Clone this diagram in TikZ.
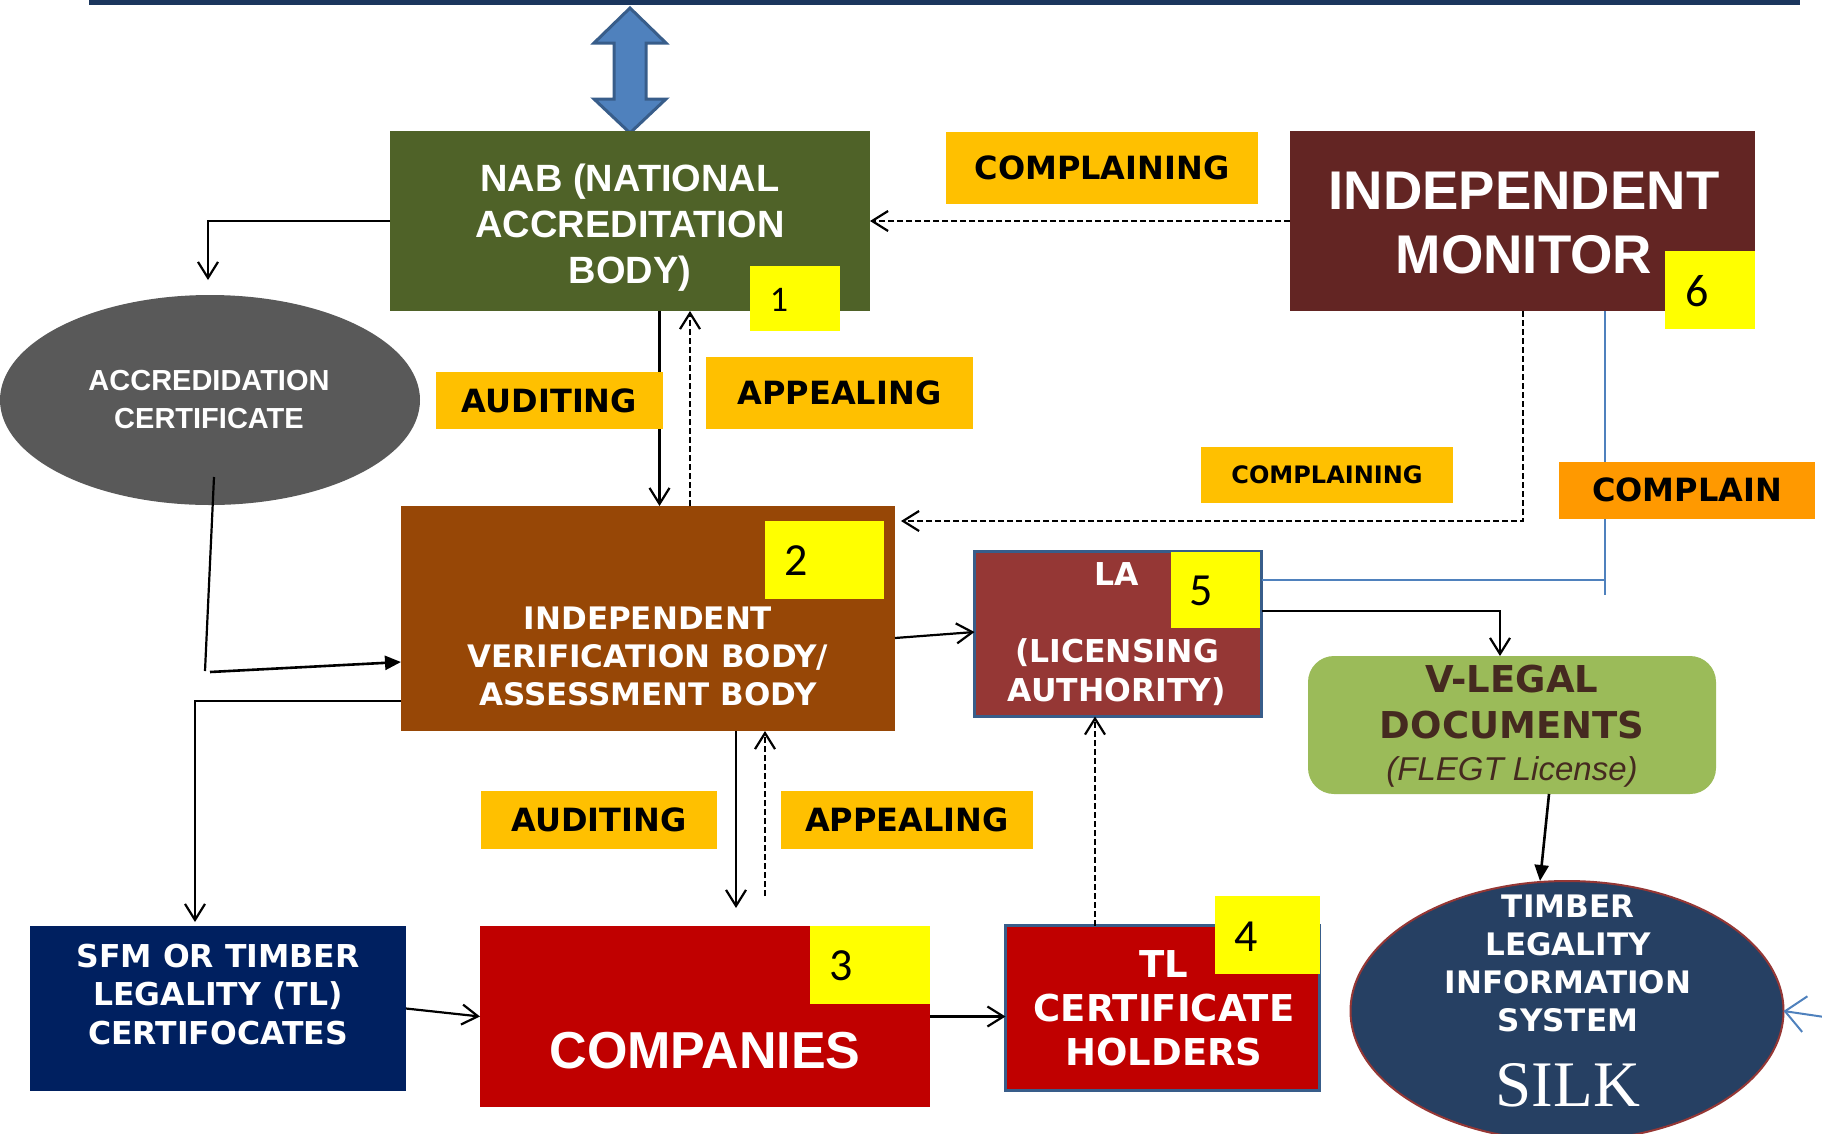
\documentclass[tikz,border=0pt]{standalone}
\usepackage{fontspec}
\setmainfont{Liberation Sans}
\newfontfamily\dvs{DejaVu Sans}
\newfontfamily\crl{Carlito}
\newfontfamily\srf{Liberation Serif}
\usetikzlibrary{arrows.meta,shapes.geometric,calc}
\definecolor{topc}{HTML}{1B365D}
\definecolor{nabc}{HTML}{4F6228}
\definecolor{imc}{HTML}{632523}
\definecolor{accc}{HTML}{595959}
\definecolor{ivbc}{HTML}{974706}
\definecolor{lac}{HTML}{953735}
\definecolor{bordc}{HTML}{385D8A}
\definecolor{vlc}{HTML}{9BBB59}
\definecolor{vltc}{HTML}{452A20}
\definecolor{silkc}{HTML}{264063}
\definecolor{sfmc}{HTML}{002060}
\definecolor{compc}{HTML}{C00000}
\definecolor{labc}{HTML}{FFC000}
\definecolor{orc}{HTML}{FF9900}
\definecolor{numc}{HTML}{FFFF00}
\definecolor{arrc}{HTML}{4F81BD}
\newcommand\myfs[2]{\fontsize{#1}{#2}\selectfont}
\begin{document}
\begin{tikzpicture}[x=1pt,y=-1pt,
  box/.style={rectangle,inner sep=0pt,outer sep=0pt,draw=none},
  numbox/.style={box,fill=numc},
  lab/.style={box,fill=labc,font={\dvs\bfseries\myfs{32}{38}},text=black},
  txt/.style={inner sep=0pt,outer sep=0pt,align=center},
  numtxt/.style={inner sep=0pt,outer sep=0pt,font={\crl\myfs{46}{50}},text=black},
  ar/.style={line width=2.2pt,-{Straight Barb[length=16pt,width=20pt]}},
  dar/.style={line width=2.2pt,dash pattern=on 6pt off 3pt,-{Straight Barb[length=16pt,width=20pt]}},
  tri/.style={line width=2.6pt,-{Triangle[length=16pt,width=14pt]}},
  plain/.style={line width=2.2pt},
  bl/.style={line width=2pt,draw=arrc}]
\useasboundingbox (0,0) rectangle (1822,1133);
\clip (0,0) rectangle (1822,1133);
% top rule
\fill[topc] (89,0) rectangle (1800,5);
% double arrow
\draw[fill=arrc,draw=bordc,line width=3pt,line join=miter]
  (630,8) -- (666,43) -- (646,43) -- (646,99) -- (666,99) -- (630,133)
  -- (594,99) -- (614,99) -- (614,43) -- (594,43) -- cycle;
% boxes
\node[box,fill=nabc,minimum width=480pt,minimum height=180pt] (nab) at (630,221) {};
\node[numbox,minimum width=90pt,minimum height=65pt] (n1) at (795,298.5) {};
\node[box,fill=imc,minimum width=465pt,minimum height=180pt] (im) at (1522.5,221) {};
\node[numbox,minimum width=90pt,minimum height=78pt] (n6) at (1710,290) {};
\node[ellipse,inner sep=0pt,outer sep=0pt,fill=accc,minimum width=420pt,minimum height=210pt] (acc) at (210,400) {};
\node[box,fill=ivbc,minimum width=494pt,minimum height=225pt] (ivb) at (648,618.5) {};
\node[numbox,minimum width=119pt,minimum height=78pt] (n2) at (824.5,560) {};
\node[box,fill=lac,draw=bordc,line width=3.5pt,minimum width=287pt,minimum height=165pt] (la) at (1118,634) {};
\node[numbox,minimum width=89pt,minimum height=76pt] (n5) at (1215,590) {};
\node[box,fill=vlc,rounded corners=26pt,minimum width=408pt,minimum height=138pt] (vl) at (1512,725) {};
\node[ellipse,inner sep=0pt,outer sep=0pt,fill=silkc,draw=lac,line width=2pt,minimum width=433pt,minimum height=260pt] (silk) at (1567,1011) {};
\node[box,fill=sfmc,minimum width=376pt,minimum height=165pt] (sfm) at (218,1008.5) {};
\node[box,fill=compc,minimum width=450pt,minimum height=181pt] (comp) at (705,1016.5) {};
\node[numbox,minimum width=120pt,minimum height=78pt] (n3) at (870,965) {};
\node[box,fill=compc,draw=bordc,line width=3.5pt,minimum width=314pt,minimum height=165pt] (tl) at (1162.5,1008) {};
\node[numbox,minimum width=105pt,minimum height=78pt] (n4) at (1267.5,935) {};
% texts
\node[txt,text=white,font={\bfseries\myfs{38}{46}}] (nabt) at (630,228) {NAB (NATIONAL\\ACCREDITATION\\BODY)};
\node[txt,text=white,font={\bfseries\myfs{29}{38}}] (acct) at (209,400) {ACCREDIDATION\\CERTIFICATE};
\node[txt,text=white,font={\bfseries\myfs{54.5}{64}}] (imt) at (1524,223) {INDEPENDENT\\MONITOR};
\node[txt,text=white,font={\dvs\bfseries\myfs{31}{38}}] (ivbt) at (648,656) {INDEPENDENT\\VERIFICATION BODY/\\ASSESSMENT BODY};
\node[txt,text=white,font={\dvs\bfseries\myfs{31.5}{38.5}}] (lat) at (1117,634) {LA\\[38.5pt](LICENSING\\AUTHORITY)};
\node[txt,text=white,font={\dvs\bfseries\myfs{31.5}{38.5}}] (sfmt) at (218,994.5) {SFM OR TIMBER\\LEGALITY (TL)\\CERTIFOCATES};
\node[txt,text=white,font={\bfseries\myfs{52}{60}}] (compt) at (705,1051) {COMPANIES};
\node[txt,text=white,font={\dvs\bfseries\myfs{37}{44}}] (tlt) at (1164,1008) {TL\\CERTIFICATE\\HOLDERS};
\node[txt,text=vltc,font={\dvs\bfseries\myfs{37}{46}}] (vlt) at (1512,702.5) {V-LEGAL\\DOCUMENTS};
\node[txt,text=vltc,font={\itshape\myfs{33}{40}}] (vlt2) at (1512,772) {(FLEGT License)};
\node[txt,text=white,font={\dvs\bfseries\myfs{31}{38}}] (silkt) at (1568,963) {TIMBER\\LEGALITY\\INFORMATION\\SYSTEM};
\node[txt,text=white,font={\srf\myfs{65}{70}}] (silkn) at (1568,1085) {SILK};
% digits
\node[numtxt,font={\crl\myfs{36}{40}}] (d1) at (779,300) {1};
\node[numtxt] (d2) at (796,561) {2};
\node[numtxt] (d3) at (841,966) {3};
\node[numtxt] (d4) at (1246,937) {4};
\node[numtxt] (d5) at (1201,591) {5};
\node[numtxt] (d6) at (1697,291) {6};
% connectors
\draw[ar] (nab.west) -- (208,221) -- (208,280);
\draw[plain] (214,477) -- (205,671);
\draw[tri] (210,672) -- (ivb.west |- 0,662);
\draw[ar] (ivb.west |- 0,701) -- (195,701) -- (195,922);
\draw[ar] (sfm.east) -- (comp.west);
\draw[ar] (comp.east) -- (tl.west |- comp.east);
\draw[dar] (tl.north -| 1095,0) -- (la.south -| 1095,0);
\draw[ar] (ivb.east |- 0,638) -- (la.west |- 0,632);
\draw[ar] (la.east |- 0,611) -- (1500,611) -- (vl.north -| 1500,0);
\draw[bl] (la.east |- 0,580) -- (1605,580);
\draw[bl] (im.south -| 1605,0) -- (1605,595);
\draw[tri] (vl.south -| 1549,0) -- (silk.north -| 1540,0);
\draw[line width=2pt,draw=arrc,-{Straight Barb[length=20pt,width=36pt]}] (1845,1020) -- (silk.east);
\draw[ar] (nab.south -| 659.5,0) -- (ivb.north -| 659.5,0);
\draw[dar] (ivb.north -| 690,0) -- (nab.south -| 690,0);
\draw[ar] (ivb.south -| 736,0) -- (736,908);
\draw[dar] (765,896) -- (ivb.south -| 765,0);
\draw[dar] (im.west) -- (nab.east);
\draw[dar] (im.south -| 1523,0) -- (1523,521) -- ($(ivb.east |- 0,521)+(6,0)$);
% labels
\node[lab,minimum width=312pt,minimum height=72pt] (lc1) at (1102,168) {COMPLAINING};
\node[lab,minimum width=227pt,minimum height=57pt] (la1) at (549.5,400.5) {AUDITING};
\node[lab,minimum width=267pt,minimum height=72pt] (lp1) at (839.5,393) {APPEALING};
\node[lab,font={\dvs\bfseries\myfs{24}{30}},minimum width=252pt,minimum height=56pt] (lc2) at (1327,475) {COMPLAINING};
\node[lab,fill=orc,minimum width=256pt,minimum height=57pt] (lcp) at (1687,490) {COMPLAIN};
\node[lab,minimum width=236pt,minimum height=58pt] (la2) at (599,820) {AUDITING};
\node[lab,minimum width=252pt,minimum height=58pt] (lp2) at (907,820) {APPEALING};
\end{tikzpicture}
\end{document}
